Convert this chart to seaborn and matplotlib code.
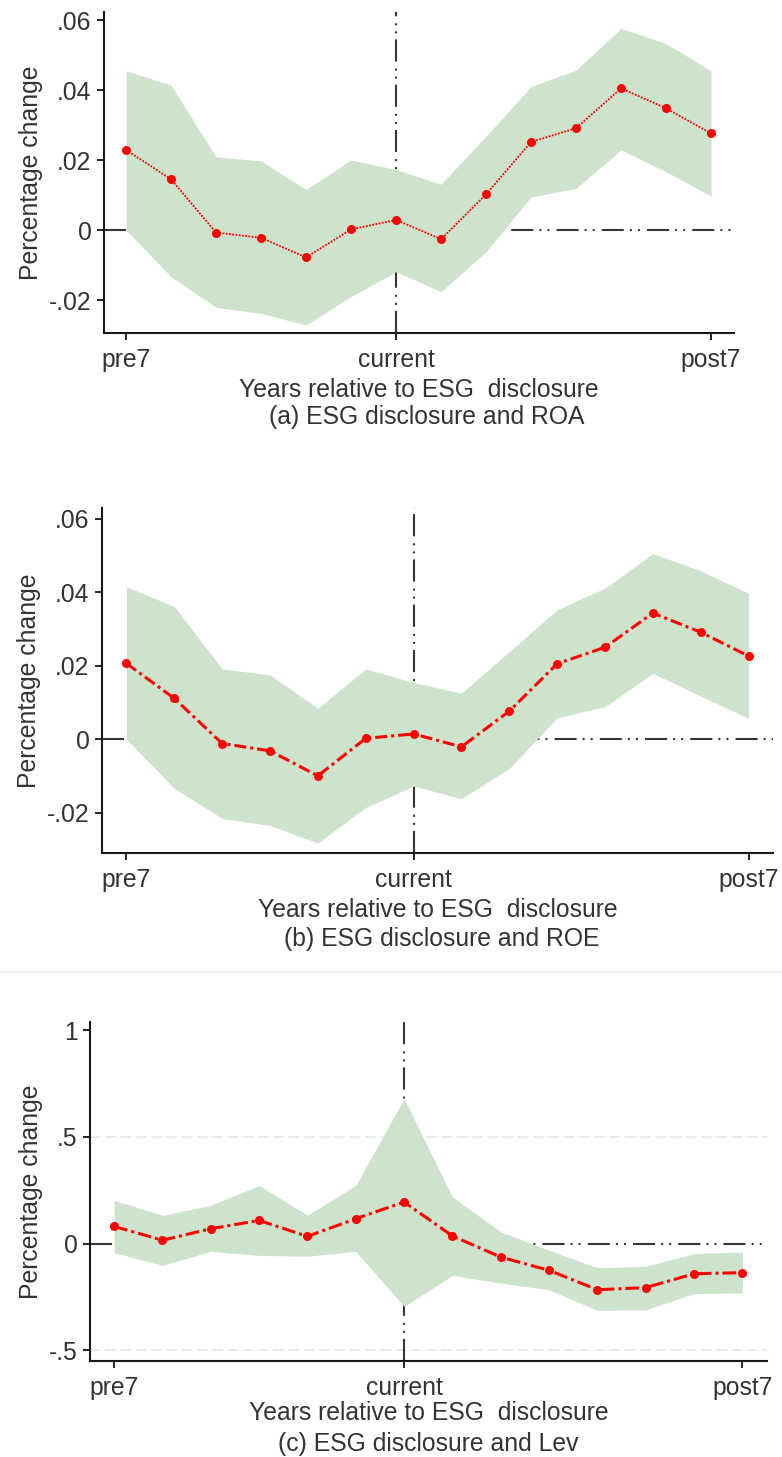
import numpy as np
import pandas as pd
import matplotlib
matplotlib.use("Agg")
import matplotlib.pyplot as plt
from matplotlib.lines import Line2D
import seaborn as sns

# Event-time positions (pre1 is the omitted base year)
periods = ["pre7", "pre6", "pre5", "pre4", "pre3", "pre2", "current",
           "post1", "post2", "post3", "post4", "post5", "post6", "post7"]
tick_labels = ["pre7", "current", "post7"]

# (a) ROA
roa_coef = [0.0229, 0.0145, -0.0007, -0.0022, -0.0078, 0.0002, 0.0029,
            -0.0026, 0.0102, 0.0252, 0.0291, 0.0405, 0.0348, 0.0276]
roa_hi = [0.0455, 0.0414, 0.0209, 0.0198, 0.0116, 0.0200, 0.0173,
          0.0131, 0.0268, 0.0410, 0.0457, 0.0576, 0.0533, 0.0455]
roa_lo = [0.0000, -0.0133, -0.0221, -0.0238, -0.0271, -0.0190, -0.0119,
          -0.0176, -0.0062, 0.0095, 0.0119, 0.0229, 0.0167, 0.0097]

# (b) ROE
roe_coef = [0.0206, 0.0111, -0.0012, -0.0032, -0.0100, 0.0002, 0.0014,
            -0.0021, 0.0076, 0.0205, 0.0250, 0.0343, 0.0291, 0.0226]
roe_hi = [0.0415, 0.0361, 0.0191, 0.0175, 0.0084, 0.0191, 0.0154,
          0.0125, 0.0238, 0.0352, 0.0411, 0.0505, 0.0458, 0.0397]
roe_lo = [0.0000, -0.0134, -0.0216, -0.0235, -0.0283, -0.0186, -0.0128,
          -0.0162, -0.0080, 0.0058, 0.0088, 0.0179, 0.0117, 0.0056]

# (c) Lev
lev_coef = [0.081, 0.016, 0.070, 0.109, 0.034, 0.117, 0.195,
            0.036, -0.063, -0.125, -0.216, -0.206, -0.141, -0.136]
lev_hi = [0.203, 0.133, 0.180, 0.273, 0.133, 0.273, 0.680,
          0.219, 0.055, -0.031, -0.113, -0.106, -0.047, -0.039]
lev_lo = [-0.042, -0.102, -0.036, -0.055, -0.059, -0.036, -0.294,
          -0.149, -0.185, -0.216, -0.313, -0.310, -0.234, -0.231]

sns.set_style("ticks")
plt.rcParams["font.family"] = ["Liberation Sans", "DejaVu Sans"]
FS = 17.8
plt.rcParams["font.size"] = FS

W, H = 782, 1457
fig = plt.figure(figsize=(W / 100, H / 100), dpi=100)
fig.patch.set_facecolor("white")

TXT = "#333333"
BAND = "#cde3cb"
REF = "#363636"
ref_style = (0, (10.6, 2.9, 0.96, 2.9, 0.96, 3.4))


def px_axes(left, top, right, bottom):
    return fig.add_axes([left / W, 1 - bottom / H, (right - left) / W, (bottom - top) / H])


def panel(ax, coef, lo, hi, ylim, xlim, yticks, ylabels, line_style, line_w,
          caption, cap_xy, xlabel_pad, grid=None):
    pos = np.arange(1, len(periods) + 1)
    df = pd.DataFrame({"pos": pos, "coef": coef, "lo": lo, "hi": hi})

    if grid is not None:
        for g in grid:
            ax.axhline(g, color="#dce8e8", lw=1.1, linestyle=(0, (7, 3)), zorder=0.5)
    ax.axhline(0, color=REF, lw=1.5, linestyle=ref_style, zorder=1)
    ax.axvline(7, color=REF, lw=1.5, linestyle=ref_style, zorder=1)
    ax.fill_between(df["pos"], df["lo"], df["hi"], color=BAND, lw=0, zorder=2)
    sns.lineplot(data=df, x="pos", y="coef", ax=ax, color="red", marker="o",
                 markersize=6.5, markeredgewidth=0, linewidth=line_w,
                 linestyle=line_style, zorder=3)

    ax.set_xlim(*xlim)
    ax.set_ylim(*ylim)
    ax.set_xticks([1, 7, 14])
    ax.set_xticklabels(tick_labels)
    ax.set_yticks(yticks)
    ax.set_yticklabels(ylabels)
    ax.tick_params(axis="both", length=5, width=1.2, color="black",
                   labelcolor=TXT, labelsize=FS)
    ax.tick_params(axis="x", pad=6)
    ax.tick_params(axis="y", pad=4)
    for s in ["top", "right"]:
        ax.spines[s].set_visible(False)
    for s in ["left", "bottom"]:
        ax.spines[s].set_linewidth(1.5)
        ax.spines[s].set_color("#1a1a1a")
    ax.set_xlabel("Years relative to ESG  disclosure", color=TXT, fontsize=FS,
                  labelpad=xlabel_pad)
    ax.set_ylabel("Percentage change", color=TXT, fontsize=FS, labelpad=4)
    fig.text(cap_xy[0] / W, 1 - cap_xy[1] / H, caption, ha="center", va="center",
             color=TXT, fontsize=FS)


ax_a = px_axes(104, 12, 734, 333)
panel(ax_a, roa_coef, roa_lo, roa_hi, (-0.0294, 0.0623), (0.51, 14.51),
      [-0.02, 0, 0.02, 0.04, 0.06], ["-.02", "0", ".02", ".04", ".06"],
      (0, (1, 0.8)), 1.3, "(a) ESG disclosure and ROA", (427, 417), 3.8)

ax_b = px_axes(102, 508, 773, 853)
panel(ax_b, roe_coef, roe_lo, roe_hi, (-0.0310, 0.0629), (0.49, 14.51),
      [-0.02, 0, 0.02, 0.04, 0.06], ["-.02", "0", ".02", ".04", ".06"],
      (0, (3.9, 1.3, 1.0, 1.3)), 2.2, "(b) ESG disclosure and ROE", (442, 939), 3.8)

ax_c = px_axes(90, 1022, 767, 1361)
panel(ax_c, lev_coef, lev_lo, lev_hi, (-0.55, 1.039), (0.50, 14.51),
      [-0.5, 0, 0.5, 1], ["-.5", "0", ".5", "1"],
      (0, (4.5, 1.3, 1.0, 1.3)), 2.2, "(c) ESG disclosure and Lev", (428, 1444), 0.5,
      grid=[-0.5, 0.5])

# thin divider between the second and third figure
fig.add_artist(Line2D([0, 1], [1 - 972 / H, 1 - 972 / H], color="#e4eded", lw=1.2))

fig.savefig("out.png", dpi=100, facecolor="white")
